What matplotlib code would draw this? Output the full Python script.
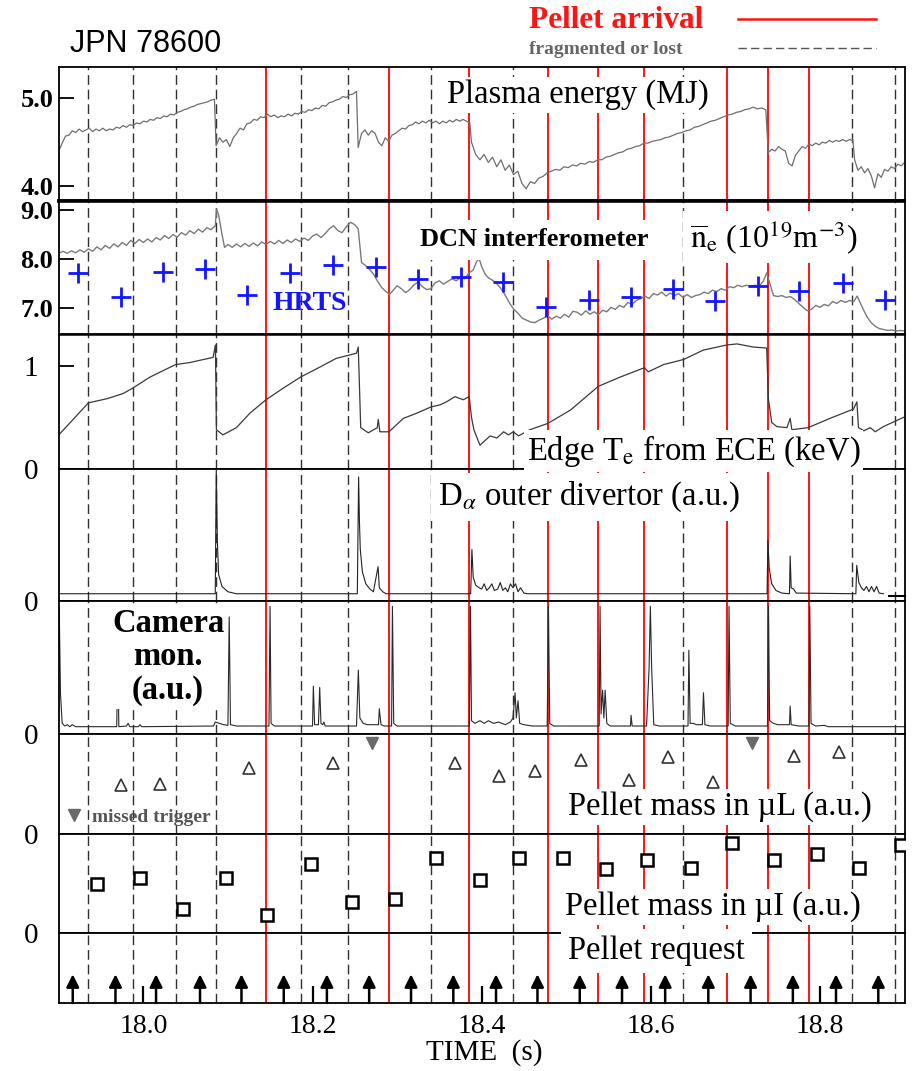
import numpy as np
import matplotlib
matplotlib.use('Agg')
import matplotlib.pyplot as plt
from matplotlib.transforms import Affine2D

plt.rcParams['font.family'] = ['Liberation Serif', 'DejaVu Serif']
plt.rcParams['mathtext.fontset'] = 'stix'

# ---- event times (s) ----
arrival_t = [18.1451, 18.2905, 18.3855, 18.4782, 18.5381, 18.5925, 18.690, 18.7384, 18.7865]
lost_t = [17.9349, 17.9874, 18.0383, 18.0856, 18.1861, 18.2424, 18.3402, 18.4376, 18.6386, 18.8385, 18.8882]
request_t = [17.9165, 17.967, 18.015, 18.067, 18.116, 18.166, 18.217, 18.267, 18.3165, 18.3665,
             18.417, 18.466, 18.516, 18.566, 18.617, 18.668, 18.718, 18.768, 18.819, 18.869]

# ---- plasma energy (MJ), sampled in segments between crashes ----
w_spans = [(17.900, 18.084), (18.086, 18.252), (18.254, 18.386),
           (18.388, 18.736), (18.739, 18.839), (18.841, 18.900)]
w_seg_a = [4.40, 4.49, 4.57, 4.58, 4.63, 4.61, 4.65, 4.62, 4.64, 4.66, 4.62, 4.65, 4.63, 4.66, 4.63, 4.65,
           4.64, 4.67, 4.66, 4.69, 4.67, 4.70, 4.69, 4.72, 4.71, 4.74, 4.73, 4.76, 4.75, 4.78, 4.77, 4.80,
           4.79, 4.82, 4.81, 4.84, 4.85, 4.87, 4.88, 4.90, 4.91, 4.93, 4.94, 4.95, 4.96, 4.98, 4.99]
w_seg_b = [4.46, 4.55, 4.50, 4.53, 4.45, 4.55, 4.60, 4.66, 4.64, 4.71, 4.72, 4.76, 4.75, 4.79, 4.78, 4.82,
           4.79, 4.81, 4.78, 4.80, 4.79, 4.82, 4.80, 4.83, 4.82, 4.85, 4.84, 4.87, 4.86, 4.89, 4.88, 4.92,
           4.91, 4.95, 4.96, 4.98, 4.99, 5.02, 5.01, 5.04, 5.05, 5.08]
w_seg_c = [4.44, 4.60, 4.64, 4.58, 4.63, 4.60, 4.50, 4.46, 4.55, 4.51, 4.58, 4.60, 4.63, 4.66, 4.65, 4.69,
           4.70, 4.73, 4.71, 4.74, 4.72, 4.75, 4.72, 4.74, 4.71, 4.74, 4.72, 4.75, 4.73, 4.76, 4.74, 4.76,
           4.74, 4.72]
w_seg_d = [4.50, 4.36, 4.30, 4.36, 4.27, 4.33, 4.22, 4.30, 4.18, 4.24, 4.13, 4.17, 4.03, 3.97, 4.05, 4.03,
           4.09, 4.11, 4.15, 4.17, 4.19, 4.18, 4.22, 4.21, 4.24, 4.23, 4.26, 4.25, 4.28, 4.27, 4.30, 4.30,
           4.33, 4.34, 4.36, 4.38, 4.39, 4.42, 4.43, 4.45, 4.46, 4.49, 4.49, 4.51, 4.52, 4.53, 4.55, 4.56,
           4.58, 4.60, 4.61, 4.63, 4.64, 4.67, 4.68, 4.70, 4.72, 4.74, 4.75, 4.77, 4.79, 4.81, 4.82, 4.84,
           4.85, 4.87, 4.88, 4.90, 4.88, 4.89, 4.87]
w_seg_e = [4.38, 4.42, 4.40, 4.45, 4.42, 4.40, 4.26, 4.23, 4.35, 4.40, 4.45, 4.43, 4.48, 4.46, 4.49, 4.47,
           4.50, 4.49, 4.52, 4.50, 4.52, 4.51, 4.53, 4.51, 4.53, 4.52]
w_seg_f = [4.30, 4.18, 4.22, 4.15, 4.20, 4.12, 3.98, 4.14, 4.10, 4.19, 4.17, 4.22, 4.20, 4.25, 4.23, 4.27]
w_segs = [w_seg_a, w_seg_b, w_seg_c, w_seg_d, w_seg_e, w_seg_f]

# ---- line averaged density (1e19 m^-3) ----
ne_seg1 = [8.12, 8.16, 8.12, 8.17, 8.13, 8.19, 8.14, 8.21, 8.16, 8.25, 8.19, 8.28, 8.22, 8.31, 8.25, 8.34,
           8.28, 8.38, 8.32, 8.40, 8.34, 8.41, 8.35, 8.44, 8.39, 8.48, 8.42, 8.50, 8.45, 8.54, 8.49, 8.58,
           8.52, 8.61, 8.55, 8.64, 8.60, 8.68]
ne_spike_t = [18.0865, 18.089, 18.093, 18.096]
ne_spike_v = [9.02, 8.90, 8.50, 8.24]
ne_seg2 = [8.30, 8.24, 8.31, 8.25, 8.32, 8.26, 8.33, 8.27, 8.35, 8.30, 8.36, 8.31, 8.38, 8.32, 8.39, 8.34,
           8.41, 8.36, 8.43, 8.38, 8.47, 8.51, 8.44, 8.52, 8.62, 8.68, 8.58, 8.54, 8.66, 8.75, 8.70]
ne_seg3_t = [18.254, 18.258, 18.262, 18.267, 18.272, 18.277, 18.282, 18.287, 18.291, 18.296,
             18.300, 18.305, 18.310, 18.315, 18.320, 18.325, 18.330, 18.335, 18.340, 18.345,
             18.350, 18.355, 18.360, 18.365, 18.370, 18.375, 18.380, 18.385, 18.390, 18.394,
             18.397, 18.400, 18.404, 18.408, 18.412, 18.417, 18.422, 18.426, 18.430, 18.434,
             18.438, 18.443, 18.448, 18.453, 18.458, 18.463, 18.468, 18.473, 18.478, 18.483,
             18.488, 18.493, 18.498, 18.503, 18.508, 18.513, 18.518, 18.523, 18.528, 18.533,
             18.538, 18.543, 18.548, 18.553, 18.558, 18.563, 18.568, 18.573, 18.578, 18.583,
             18.588, 18.593, 18.598, 18.603, 18.608, 18.613, 18.618, 18.623, 18.628, 18.633,
             18.638, 18.643, 18.648, 18.653, 18.658, 18.663, 18.668, 18.673, 18.678, 18.683,
             18.688, 18.693, 18.698, 18.703, 18.708, 18.713, 18.718, 18.723, 18.728, 18.733,
             18.737, 18.741, 18.745, 18.750, 18.755, 18.760, 18.765, 18.770, 18.775, 18.780,
             18.785, 18.790, 18.795, 18.800, 18.805, 18.810, 18.815, 18.820, 18.825, 18.830,
             18.835, 18.840, 18.844, 18.848, 18.852, 18.856, 18.860, 18.865, 18.870, 18.875,
             18.880, 18.885, 18.890, 18.895, 18.900]
ne_seg3_v = [8.62, 7.93, 7.88, 7.80, 7.70, 7.55, 7.42, 7.34, 7.28, 7.38,
             7.46, 7.40, 7.32, 7.38, 7.48, 7.53, 7.44, 7.38, 7.40, 7.52,
             7.56, 7.49, 7.55, 7.60, 7.56, 7.63, 7.60, 7.72, 7.78, 7.95,
             8.01, 7.85, 7.70, 7.62, 7.58, 7.52, 7.42, 7.32, 7.20, 7.08,
             6.98, 6.90, 6.80, 6.76, 6.72, 6.71, 6.76, 6.80, 6.85, 6.78,
             6.84, 6.80, 6.88, 6.82, 6.94, 6.92, 6.86, 6.95, 6.88, 6.93,
             6.87, 6.96, 6.93, 7.02, 6.98, 7.06, 7.02, 7.12, 7.08, 7.16,
             7.20, 7.25, 7.20, 7.30, 7.27, 7.33, 7.25, 7.31, 7.26, 7.30,
             7.22, 7.28, 7.22, 7.26, 7.28, 7.33, 7.30, 7.37, 7.34, 7.40,
             7.37, 7.44, 7.42, 7.47, 7.44, 7.47, 7.45, 7.47, 7.45, 7.55,
             7.72, 7.50, 7.26, 7.24, 7.26, 7.22, 7.24, 7.18, 7.10, 7.02,
             6.95, 6.98, 7.06, 7.02, 7.08, 7.05, 7.14, 7.10, 7.16, 7.12,
             7.16, 7.14, 7.25, 7.10, 6.95, 6.82, 6.72, 6.64, 6.59, 6.57,
             6.55, 6.56, 6.54, 6.55, 6.54]

hrts_t = [17.923, 17.9735, 18.0235, 18.073, 18.123, 18.173, 18.2246, 18.2747, 18.325, 18.3756,
          18.4257, 18.4765, 18.5266, 18.5767, 18.626, 18.676, 18.727, 18.7756, 18.827, 18.8765]
hrts_v = [7.72, 7.24, 7.74, 7.80, 7.27, 7.72, 7.88, 7.84, 7.59, 7.63,
          7.54, 7.02, 7.17, 7.24, 7.39, 7.15, 7.46, 7.36, 7.51, 7.17]

# ---- edge Te (keV) ----
te_t = [17.900, 17.917, 17.935, 17.957, 17.976, 17.987, 18.008, 18.038, 18.055, 18.0825,
        18.0852, 18.0864, 18.094, 18.110, 18.126, 18.145, 18.165, 18.186, 18.205, 18.228,
        18.252, 18.2541, 18.257, 18.266, 18.2766, 18.2777, 18.2797, 18.2905, 18.3075, 18.3233,
        18.340, 18.3506, 18.3585, 18.3684, 18.3782, 18.3853, 18.388, 18.3908, 18.398, 18.410,
        18.418, 18.426, 18.4316, 18.4375, 18.4435, 18.457, 18.478, 18.505, 18.538, 18.564,
        18.5925, 18.597, 18.615, 18.639, 18.662, 18.690, 18.702, 18.721, 18.737, 18.7392,
        18.743, 18.749, 18.761, 18.7648, 18.7668, 18.786, 18.812, 18.8397, 18.8437, 18.8456,
        18.852, 18.8595, 18.8654, 18.875, 18.899]
te_v = [0.33, 0.48, 0.64, 0.68, 0.73, 0.78, 0.89, 1.01, 1.03, 1.08,
        1.20, 0.38, 0.33, 0.40, 0.54, 0.67, 0.78, 0.89, 0.97, 1.07,
        1.12, 1.18, 0.40, 0.35, 0.40, 0.48, 0.36, 0.36, 0.49, 0.54,
        0.60, 0.62, 0.65, 0.70, 0.67, 0.70, 0.50, 0.38, 0.23, 0.32,
        0.30, 0.36, 0.33, 0.36, 0.32, 0.38, 0.44, 0.57, 0.80, 0.89,
        0.98, 0.94, 1.01, 1.06, 1.15, 1.20, 1.21, 1.18, 1.17, 0.67,
        0.45, 0.41, 0.40, 0.49, 0.38, 0.40, 0.49, 0.58, 0.65, 0.40,
        0.37, 0.40, 0.36, 0.41, 0.50]

# ---- D-alpha outer divertor (a.u.) ----
da_t = [17.900, 18.085, 18.0862, 18.0875, 18.089, 18.093, 18.100, 18.110, 18.253, 18.2545,
        18.2555, 18.2565, 18.259, 18.263, 18.268, 18.272, 18.2775, 18.279, 18.283, 18.287,
        18.387, 18.3885, 18.390, 18.393, 18.397, 18.400, 18.403, 18.406, 18.409, 18.412,
        18.415, 18.419, 18.422, 18.425, 18.428, 18.431, 18.434, 18.437, 18.440, 18.443,
        18.446, 18.450, 18.455, 18.7375, 18.7385, 18.740, 18.743, 18.748, 18.755, 18.764,
        18.7648, 18.766, 18.769, 18.772, 18.8425, 18.8435, 18.846, 18.849, 18.852, 18.855,
        18.858, 18.861, 18.864, 18.867, 18.870, 18.875]
da_v = [0.055, 0.055, 0.99, 0.45, 0.20, 0.11, 0.07, 0.055, 0.055, 0.94,
        0.60, 0.39, 0.22, 0.13, 0.09, 0.07, 0.26, 0.10, 0.07, 0.055,
        0.055, 0.39, 0.18, 0.12, 0.10, 0.09, 0.13, 0.08, 0.10, 0.13,
        0.08, 0.09, 0.14, 0.08, 0.10, 0.07, 0.13, 0.10, 0.13, 0.07,
        0.10, 0.06, 0.055, 0.055, 0.46, 0.25, 0.13, 0.08, 0.06, 0.055,
        0.34, 0.10, 0.09, 0.06, 0.055, 0.27, 0.14, 0.10, 0.08, 0.11,
        0.07, 0.11, 0.07, 0.11, 0.06, 0.055]

# ---- camera monitor (a.u.) ----
cam_t = [17.9005, 17.902, 17.904, 17.907, 17.910, 17.913, 17.916, 17.920, 17.9685, 17.9697,
         17.971, 17.980, 17.982, 17.984, 17.994, 17.996, 17.998, 18.083, 18.085, 18.090,
         18.095, 18.100, 18.1015, 18.103, 18.110, 18.1485, 18.1498, 18.151, 18.155, 18.200,
         18.201, 18.2025, 18.207, 18.2085, 18.210, 18.212, 18.2135, 18.215, 18.252, 18.2542,
         18.256, 18.260, 18.265, 18.278, 18.279, 18.281, 18.285, 18.2935, 18.2945, 18.296,
         18.300, 18.3855, 18.3868, 18.388, 18.392, 18.398, 18.403, 18.408, 18.414, 18.420,
         18.428, 18.434, 18.437, 18.4395, 18.441, 18.443, 18.445, 18.450, 18.460, 18.4775,
         18.479, 18.4805, 18.485, 18.539, 18.540, 18.5412, 18.543, 18.5445, 18.546, 18.548,
         18.552, 18.576, 18.5767, 18.578, 18.595, 18.598, 18.5995, 18.601, 18.6035, 18.610,
         18.644, 18.645, 18.6465, 18.650, 18.654, 18.661, 18.6623, 18.664, 18.670, 18.6915,
         18.6925, 18.694, 18.700, 18.738, 18.7392, 18.7405, 18.745, 18.750, 18.764, 18.7648,
         18.766, 18.775, 18.787, 18.788, 18.7895, 18.795, 18.805, 18.810, 18.900]
cam_v = [0.95, 0.30, 0.08, 0.06, 0.07, 0.055, 0.07, 0.055, 0.055, 0.61,
         0.055, 0.06, 0.08, 0.055, 0.055, 0.07, 0.055, 0.06, 0.09, 0.08,
         0.07, 0.065, 0.88, 0.07, 0.06, 0.06, 0.96, 0.08, 0.06, 0.06,
         0.36, 0.07, 0.07, 0.35, 0.08, 0.07, 0.09, 0.06, 0.06, 0.48,
         0.12, 0.08, 0.07, 0.07, 0.19, 0.07, 0.06, 0.06, 0.96, 0.08,
         0.06, 0.06, 0.96, 0.10, 0.08, 0.10, 0.08, 0.10, 0.08, 0.09,
         0.07, 0.09, 0.12, 0.31, 0.12, 0.25, 0.08, 0.07, 0.06, 0.06,
         0.96, 0.08, 0.06, 0.06, 0.96, 0.15, 0.33, 0.12, 0.33, 0.08,
         0.06, 0.06, 0.14, 0.06, 0.06, 0.50, 0.96, 0.50, 0.07, 0.06,
         0.06, 0.63, 0.08, 0.08, 0.07, 0.07, 0.31, 0.07, 0.06, 0.06,
         0.96, 0.08, 0.06, 0.06, 0.96, 0.10, 0.08, 0.07, 0.07, 0.21,
         0.07, 0.06, 0.06, 0.96, 0.08, 0.06, 0.065, 0.055, 0.055]

# ---- pellet mass, microwave cavities (a.u.) ----
mul_t = [17.9735, 18.020, 18.125, 18.224, 18.368, 18.421, 18.463, 18.518, 18.574, 18.620,
         18.673, 18.769, 18.822]
mul_v = [0.49, 0.50, 0.66, 0.71, 0.71, 0.58, 0.63, 0.74, 0.54, 0.77, 0.52, 0.78, 0.82]
missed_t = [18.2706, 18.720]
missed_v = [0.91, 0.91]

mui_t = [17.9457, 17.9957, 18.0466, 18.0973, 18.146, 18.198, 18.247, 18.297, 18.3457, 18.398,
         18.4445, 18.4966, 18.5475, 18.596, 18.647, 18.6957, 18.7457, 18.7966, 18.8466, 18.8953]
mui_v = [0.50, 0.56, 0.24, 0.56, 0.18, 0.70, 0.31, 0.34, 0.76, 0.54,
         0.76, 0.76, 0.65, 0.74, 0.66, 0.91, 0.74, 0.80, 0.66, 0.89]

xticks = [18.0, 18.2, 18.4, 18.6, 18.8]

# ---------------------------------------------------------------
W, H = 922, 1071
X0, X1 = 58.8, 904.5
edges = [67, 201, 334, 469, 601, 734, 834, 933, 1003]

fig = plt.figure(figsize=(W / 100, H / 100), dpi=100)
pix = Affine2D().scale(1.0 / W, -1.0 / H).translate(0, 1) + fig.transFigure

axes = []
for i in range(8):
    top, bot = edges[i], edges[i + 1]
    ax = fig.add_axes([X0 / W, 1 - bot / H, (X1 - X0) / W, (bot - top) / H])
    ax.set_xlim(17.9, 18.9)
    ax.tick_params(axis='x', bottom=False, labelbottom=False)
    ax.tick_params(axis='y', direction='in', length=11, width=1.3)
    for s in ax.spines.values():
        s.set_linewidth(1.3)
    for t in lost_t:
        ax.axvline(t, color='#303030', lw=1.0, dashes=(7, 3.5), zorder=1)
    for t in arrival_t:
        ax.axvline(t, color='#ff1414', lw=1.4, zorder=1)
    axes.append(ax)

ax1, ax2, ax3, ax4, ax5, ax6, ax7, ax8 = axes
ax1.spines['bottom'].set_linewidth(2.6)
ax2.spines['top'].set_linewidth(2.6)
ax2.spines['bottom'].set_linewidth(1.8)
ax3.spines['top'].set_linewidth(1.8)

# panel 1: plasma energy
w_t = np.concatenate([np.linspace(a, b, len(s)) for (a, b), s in zip(w_spans, w_segs)])
w_v = np.concatenate(w_segs)
ax1.plot(w_t, w_v, color='#6e6e6e', lw=0.9, zorder=2)
ax1.set_ylim(3.83, 5.357)
ax1.set_yticks([4.0, 5.0])
ax1.set_yticklabels(['4.0', '5.0'], fontsize=19, fontweight='bold')
ax1.tick_params(axis='y', pad=4)

# panel 2: density
ne_t = np.concatenate([np.linspace(17.900, 18.085, len(ne_seg1)), ne_spike_t,
                       np.linspace(18.100, 18.250, len(ne_seg2)), ne_seg3_t])
ne_v = np.concatenate([ne_seg1, ne_spike_v, ne_seg2, ne_seg3_v])
ax2.plot(ne_t, ne_v, color='#7a7a7a', lw=1.0, zorder=2)
ax2.plot(hrts_t, hrts_v, '+', color='#1414ff', ms=15, mew=2.0, zorder=3)
ax2.set_ylim(6.478, 9.183)
ax2.set_yticks([7.0, 8.0, 9.0])
ax2.set_yticklabels(['7.0', '8.0', '9.0'], fontsize=19, fontweight='bold')
ax2.tick_params(axis='y', pad=4)

# panel 3: edge Te
ax3.plot(te_t, te_v, color='#3a3a3a', lw=0.9, zorder=2)
ax3.set_ylim(0, 1.306)
ax3.set_yticks([0, 1])

# panel 4: D-alpha
ax4.plot(da_t, da_v, color='#222222', lw=0.8, zorder=2)
ax4.set_ylim(0, 1)
ax4.plot([0.982, 1.0], [0.04, 0.04], transform=ax4.transAxes, color='k', lw=1.5, clip_on=False)

# panel 5: camera
ax5.plot(cam_t, cam_v, color='#2a2a2a', lw=0.8, zorder=2)
ax5.set_ylim(0, 1)

# panel 6: pellet mass (L)
ax6.plot(mul_t, mul_v, '^', mfc='white', mec='#333333', ms=8, mew=1.2, zorder=3)
ax6.plot(missed_t, missed_v, 'v', color='#6a6a6a', ms=9, zorder=3)
ax6.set_ylim(0, 1)

# panel 7: pellet mass (I)
ax7.plot(mui_t, mui_v, 's', mfc='white', mec='black', ms=9, mew=1.8, zorder=3)
ax7.set_ylim(0, 1)

# panel 8: pellet requests
ax8.set_ylim(0, 1)
ax8.set_yticks([])
for t in request_t:
    ax8.annotate('', xy=(t, 0.41), xytext=(t, 0.0),
                 arrowprops=dict(arrowstyle='-|>', color='black', lw=1.8,
                                 mutation_scale=19, shrinkA=0, shrinkB=0), zorder=3)
ax8.set_xticks(xticks)
ax8.set_xticklabels(['18.0', '18.2', '18.4', '18.6', '18.8'])
ax8.tick_params(axis='x', bottom=True, labelbottom=True, direction='in',
                length=12, width=1.6, labelsize=20, pad=8)

for ax in (ax3, ax4, ax5, ax6, ax7):
    if ax is not ax3:
        ax.set_yticks([0])
        ax.set_yticklabels(['0'])
    else:
        ax.set_yticklabels(['0', '1'])
    ax.tick_params(axis='y', labelsize=21, pad=15)

# ---- labels (pixel coordinates, top-left origin) ----
box = dict(facecolor='white', edgecolor='none', pad=2)
def label(x, y, s, size=23.5, weight='normal', ha='left', color='black', **kw):
    fig.text(x, y, s, transform=pix, fontsize=size, fontweight=weight, ha=ha,
             va='center', color=color, zorder=5, **kw)

label(447, 95, 'Plasma energy (MJ)', bbox=box)
label(420, 240, 'DCN interferometer', size=19, weight='bold', bbox=dict(box, pad=6))
label(690, 237, r'$\overline{\mathrm{n}}_{\mathrm{e}}$ (10$^{19}$m$^{-3}$)', size=23, bbox=dict(box, pad=5))
label(272, 303, 'HRTS', size=20, weight='bold', color='#1414ff')
label(527, 451, r'Edge T$_{\mathrm{e}}$ from ECE (keV)', bbox=box)
label(438, 497, r'D$_{\alpha}$ outer divertor (a.u.)', bbox=dict(box, pad=5))
label(168, 657, 'Camera\nmon.\n(a.u.)', weight='bold', ha='center', linespacing=1.1, bbox=box)
label(568, 807, 'Pellet mass in µL (a.u.)', bbox=box)
label(92, 817, 'missed trigger', size=14, weight='bold', color='#555555')
fig.lines.append(plt.Line2D([73.5], [815], marker='v', color='#6a6a6a', ms=8,
                            transform=pix, linestyle='none'))
label(565, 907, 'Pellet mass in µI (a.u.)', bbox=box)
label(568, 951, 'Pellet request', bbox=dict(box, pad=5))

# ---- header ----
label(70, 44, 'JPN 78600', size=22, family=['Liberation Sans', 'DejaVu Sans'])
label(529, 21, 'Pellet arrival', size=22.5, weight='bold', color='#ff1414')
label(529, 49, 'fragmented or lost', size=14, weight='bold', color='#666666')
fig.lines.append(plt.Line2D([738, 876], [19, 19], color='#ff1414', lw=1.8, transform=pix))
fig.lines.append(plt.Line2D([738, 876], [48, 48], color='#555555', lw=1.0,
                            dashes=(6, 3), transform=pix))

label(484, 1053, 'TIME  (s)', size=21, ha='center')

fig.savefig('out.png', dpi=100)
